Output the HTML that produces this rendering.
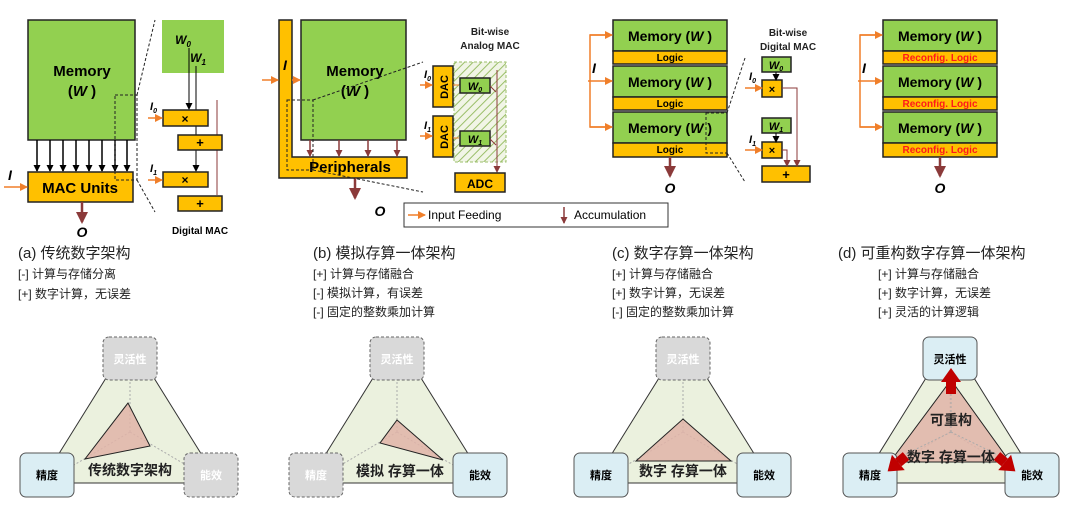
<!DOCTYPE html>
<html><head><meta charset="utf-8"><style>
body{margin:0;background:#fff;}
svg{display:block;font-family:"Liberation Sans","Noto Sans CJK SC",sans-serif;}
.b{font-weight:bold;}
</style></head><body>
<svg width="1080" height="513" viewBox="0 0 1080 513" xmlns="http://www.w3.org/2000/svg">
<defs>
<marker id="ak" markerUnits="userSpaceOnUse" markerWidth="7" markerHeight="7" refX="6" refY="3.5" orient="auto"><path d="M0,0L7,3.5L0,7z" fill="#000"/></marker>
<marker id="ar" markerUnits="userSpaceOnUse" markerWidth="7" markerHeight="7" refX="6" refY="3.5" orient="auto"><path d="M0,0L7,3.5L0,7z" fill="#8b3a3a"/></marker>
<marker id="arB" markerUnits="userSpaceOnUse" markerWidth="12" markerHeight="12" refX="10" refY="6" orient="auto"><path d="M0,0L12,6L0,12z" fill="#8b3a3a"/></marker>
<marker id="ao" markerUnits="userSpaceOnUse" markerWidth="8" markerHeight="8" refX="7" refY="4" orient="auto"><path d="M0,0L8,4L0,8z" fill="#f07f2a"/></marker>
<pattern id="hat" width="6" height="6" patternUnits="userSpaceOnUse" patternTransform="rotate(45)"><rect width="6" height="6" fill="#f1f5e6"/><line x1="0" y1="0" x2="0" y2="6" stroke="#9bbf6a" stroke-width="2"/></pattern>
</defs>
<g stroke-width="1.5">
<!-- (a) -->
<rect x="28" y="20" width="107" height="120" fill="#92d050" stroke="#222"/>
<text x="82" y="76" font-size="15" class="b" text-anchor="middle">Memory</text>
<text x="82" y="96" font-size="15" class="b" text-anchor="middle">(<tspan font-style="italic">W</tspan> )</text>
<g stroke="#000" marker-end="url(#ak)">
<line x1="37" y1="140" x2="37" y2="171"/><line x1="50" y1="140" x2="50" y2="171"/><line x1="63" y1="140" x2="63" y2="171"/><line x1="76" y1="140" x2="76" y2="171"/><line x1="89" y1="140" x2="89" y2="171"/><line x1="102" y1="140" x2="102" y2="171"/><line x1="115" y1="140" x2="115" y2="171"/><line x1="127" y1="140" x2="127" y2="171"/></g>
<rect x="28" y="172" width="105" height="30" fill="#ffc000" stroke="#222"/>
<text x="80" y="193" font-size="15" class="b" text-anchor="middle">MAC Units</text>
<line x1="4" y1="187" x2="27" y2="187" stroke="#f07f2a" marker-end="url(#ao)"/>
<text x="8" y="180" font-size="14" class="b" font-style="italic">I</text>
<line x1="82" y1="202" x2="82" y2="222" stroke="#8b3a3a" stroke-width="2.5" marker-end="url(#arB)"/>
<text x="82" y="237" font-size="14" class="b" font-style="italic" text-anchor="middle">O</text>
<g stroke="#222" stroke-dasharray="3,2" fill="none" stroke-width="1">
<rect x="115" y="95" width="22" height="85"/><line x1="137" y1="95" x2="155" y2="20"/><line x1="137" y1="180" x2="155" y2="212"/></g>
<rect x="162" y="20" width="62" height="53" fill="#92d050"/>
<text x="183" y="44" font-size="12" class="b" font-style="italic" text-anchor="middle">W<tspan font-size="8" dy="3">0</tspan></text>
<text x="198" y="62" font-size="12" class="b" font-style="italic" text-anchor="middle">W<tspan font-size="8" dy="3">1</tspan></text>
<line x1="189" y1="48" x2="189" y2="109" stroke="#000" stroke-width="1" marker-end="url(#ak)"/>
<line x1="196" y1="66" x2="196" y2="171" stroke="#000" stroke-width="1" marker-end="url(#ak)"/>
<line x1="217" y1="100" x2="217" y2="195" stroke="#8b3a3a" stroke-width="1"/>
<rect x="163" y="110" width="45" height="16" fill="#ffc000" stroke="#222"/><text x="185" y="123" font-size="12" class="b" text-anchor="middle">×</text>
<rect x="178" y="135" width="44" height="15" fill="#ffc000" stroke="#222"/><text x="200" y="147" font-size="13" class="b" text-anchor="middle">+</text>
<rect x="163" y="172" width="45" height="15" fill="#ffc000" stroke="#222"/><text x="185" y="184" font-size="12" class="b" text-anchor="middle">×</text>
<rect x="178" y="196" width="44" height="15" fill="#ffc000" stroke="#222"/><text x="200" y="208" font-size="13" class="b" text-anchor="middle">+</text>
<line x1="148" y1="118" x2="162" y2="118" stroke="#f07f2a" marker-end="url(#ao)"/>
<line x1="148" y1="180" x2="162" y2="180" stroke="#f07f2a" marker-end="url(#ao)"/>
<text x="150" y="110" font-size="11" class="b" font-style="italic">I<tspan font-size="7" dy="3">0</tspan></text>
<text x="150" y="172" font-size="11" class="b" font-style="italic">I<tspan font-size="7" dy="3">1</tspan></text>
<text x="200" y="234" font-size="10" class="b" text-anchor="middle">Digital MAC</text>

<!-- (b) -->
<path d="M279,20H292V157H407V178H279Z" fill="#ffc000" stroke="#222"/>
<rect x="301" y="20" width="105" height="120" fill="#92d050" stroke="#222"/>
<text x="355" y="76" font-size="15" class="b" text-anchor="middle">Memory</text>
<text x="355" y="96" font-size="15" class="b" text-anchor="middle">(<tspan font-style="italic">W</tspan> )</text>
<text x="350" y="172" font-size="15" class="b" text-anchor="middle">Peripherals</text>
<line x1="262" y1="80" x2="278" y2="80" stroke="#f07f2a" marker-end="url(#ao)"/>
<line x1="292" y1="80" x2="300" y2="80" stroke="#f07f2a" marker-end="url(#ao)"/>
<text x="283" y="70" font-size="14" class="b" font-style="italic">I</text>
<g stroke="#8b3a3a" marker-end="url(#ar)"><line x1="310" y1="140" x2="310" y2="156"/><line x1="339" y1="140" x2="339" y2="156"/><line x1="368" y1="140" x2="368" y2="156"/><line x1="397" y1="140" x2="397" y2="156"/></g>
<line x1="355" y1="178" x2="355" y2="198" stroke="#8b3a3a" stroke-width="2.5" marker-end="url(#arB)"/>
<text x="380" y="216" font-size="14" class="b" font-style="italic" text-anchor="middle">O</text>
<g stroke="#222" stroke-dasharray="3,2" fill="none" stroke-width="1">
<rect x="287" y="100" width="26" height="70"/><line x1="313" y1="100" x2="423" y2="62"/><line x1="313" y1="170" x2="423" y2="192"/></g>
<text x="490" y="35" font-size="10" class="b" text-anchor="middle" fill="#222">Bit-wise</text>
<text x="490" y="49" font-size="10" class="b" text-anchor="middle" fill="#222">Analog MAC</text>
<rect x="454" y="62" width="52" height="100" fill="url(#hat)" stroke="#9bbf6a" stroke-dasharray="3,2" stroke-width="1"/>
<rect x="433" y="66" width="20" height="41" fill="#ffc000" stroke="#222"/><text transform="translate(448,87) rotate(-90)" font-size="11" class="b" text-anchor="middle">DAC</text>
<rect x="433" y="116" width="20" height="41" fill="#ffc000" stroke="#222"/><text transform="translate(448,137) rotate(-90)" font-size="11" class="b" text-anchor="middle">DAC</text>
<rect x="460" y="78" width="30" height="15" fill="#92d050" stroke="#222"/><text x="475" y="90" font-size="11" class="b" font-style="italic" text-anchor="middle">W<tspan font-size="7" dy="2">0</tspan></text>
<rect x="460" y="131" width="30" height="15" fill="#92d050" stroke="#222"/><text x="475" y="143" font-size="11" class="b" font-style="italic" text-anchor="middle">W<tspan font-size="7" dy="2">1</tspan></text>
<line x1="420" y1="85" x2="432" y2="85" stroke="#f07f2a" marker-end="url(#ao)"/>
<line x1="420" y1="136" x2="432" y2="136" stroke="#f07f2a" marker-end="url(#ao)"/>
<line x1="453" y1="85" x2="459" y2="85" stroke="#f07f2a" stroke-width="1"/>
<line x1="453" y1="138" x2="459" y2="138" stroke="#f07f2a" stroke-width="1"/>
<text x="424" y="78" font-size="11" class="b" font-style="italic">I<tspan font-size="7" dy="3">0</tspan></text>
<text x="424" y="129" font-size="11" class="b" font-style="italic">I<tspan font-size="7" dy="3">1</tspan></text>
<line x1="497" y1="70" x2="497" y2="172" stroke="#8b3a3a" stroke-width="1" marker-end="url(#ar)"/>
<line x1="490" y1="86" x2="496" y2="92" stroke="#8b3a3a" stroke-width="1"/>
<line x1="490" y1="139" x2="496" y2="145" stroke="#8b3a3a" stroke-width="1"/>
<rect x="455" y="173" width="50" height="19" fill="#ffc000" stroke="#222"/><text x="480" y="188" font-size="12" class="b" text-anchor="middle">ADC</text>
<rect x="404" y="203" width="264" height="24" fill="#fff" stroke="#333" stroke-width="1"/>
<line x1="408" y1="215" x2="425" y2="215" stroke="#f07f2a" marker-end="url(#ao)"/>
<text x="428" y="219" font-size="12">Input Feeding</text>
<line x1="564" y1="207" x2="564" y2="223" stroke="#8b3a3a" marker-end="url(#ar)"/>
<text x="574" y="219" font-size="12">Accumulation</text>

<!-- (c) & (d) -->
<g id="stk">
<rect x="613" y="20" width="114" height="31" fill="#92d050" stroke="#222"/>
<rect x="613" y="51" width="114" height="13" fill="#ffc000" stroke="#222"/>
<rect x="613" y="66" width="114" height="31" fill="#92d050" stroke="#222"/>
<rect x="613" y="97" width="114" height="13" fill="#ffc000" stroke="#222"/>
<rect x="613" y="112" width="114" height="31" fill="#92d050" stroke="#222"/>
<rect x="613" y="143" width="114" height="14" fill="#ffc000" stroke="#222"/>
<text x="670" y="41" font-size="14" class="b" text-anchor="middle">Memory (<tspan font-style="italic">W</tspan> )</text>
<text x="670" y="87" font-size="14" class="b" text-anchor="middle">Memory (<tspan font-style="italic">W</tspan> )</text>
<text x="670" y="133" font-size="14" class="b" text-anchor="middle">Memory (<tspan font-style="italic">W</tspan> )</text>
<path d="M605,35H590V127H605" fill="none" stroke="#f07f2a"/>
<line x1="590" y1="35" x2="612" y2="35" stroke="#f07f2a" marker-end="url(#ao)"/>
<line x1="588" y1="81" x2="612" y2="81" stroke="#f07f2a" marker-end="url(#ao)"/>
<line x1="590" y1="127" x2="612" y2="127" stroke="#f07f2a" marker-end="url(#ao)"/>
<text x="592" y="73" font-size="14" class="b" font-style="italic">I</text>
<line x1="670" y1="157" x2="670" y2="176" stroke="#8b3a3a" stroke-width="2.5" marker-end="url(#arB)"/>
<text x="670" y="193" font-size="14" class="b" font-style="italic" text-anchor="middle">O</text>
</g>
<g font-size="10" class="b" text-anchor="middle"><text x="670" y="61">Logic</text><text x="670" y="107">Logic</text><text x="670" y="153">Logic</text></g>
<use href="#stk" x="270"/>
<g font-size="10" class="b" text-anchor="middle" fill="#ff1a1a"><text x="940" y="61">Reconfig. Logic</text><text x="940" y="107">Reconfig. Logic</text><text x="940" y="153">Reconfig. Logic</text></g>
<g stroke="#222" stroke-dasharray="3,2" fill="none" stroke-width="1">
<rect x="706" y="113" width="21" height="40"/><line x1="727" y1="113" x2="745" y2="58"/><line x1="727" y1="153" x2="745" y2="182"/></g>
<text x="788" y="36" font-size="10" class="b" text-anchor="middle" fill="#222">Bit-wise</text>
<text x="788" y="50" font-size="10" class="b" text-anchor="middle" fill="#222">Digital MAC</text>
<rect x="762" y="57" width="29" height="15" fill="#92d050" stroke="#222"/><text x="776" y="69" font-size="11" class="b" font-style="italic" text-anchor="middle">W<tspan font-size="7" dy="2">0</tspan></text>
<rect x="762" y="118" width="29" height="15" fill="#92d050" stroke="#222"/><text x="776" y="130" font-size="11" class="b" font-style="italic" text-anchor="middle">W<tspan font-size="7" dy="2">1</tspan></text>
<rect x="762" y="80" width="20" height="17" fill="#ffc000" stroke="#222"/><text x="772" y="93" font-size="11" class="b" text-anchor="middle">×</text>
<rect x="762" y="142" width="20" height="16" fill="#ffc000" stroke="#222"/><text x="772" y="154" font-size="11" class="b" text-anchor="middle">×</text>
<rect x="762" y="166" width="48" height="16" fill="#ffc000" stroke="#222"/><text x="786" y="179" font-size="13" class="b" text-anchor="middle">+</text>
<line x1="776" y1="72" x2="776" y2="80" stroke="#000" stroke-width="1" marker-end="url(#ak)"/>
<line x1="776" y1="133" x2="776" y2="142" stroke="#000" stroke-width="1" marker-end="url(#ak)"/>
<path d="M782,88H797V166" fill="none" stroke="#8b3a3a" stroke-width="1" marker-end="url(#ar)"/>
<path d="M782,150H787V166" fill="none" stroke="#8b3a3a" stroke-width="1" marker-end="url(#ar)"/>
<line x1="745" y1="88" x2="762" y2="88" stroke="#f07f2a" marker-end="url(#ao)"/>
<line x1="745" y1="150" x2="762" y2="150" stroke="#f07f2a" marker-end="url(#ao)"/>
<text x="749" y="80" font-size="11" class="b" font-style="italic">I<tspan font-size="7" dy="3">0</tspan></text>
<text x="749" y="143" font-size="11" class="b" font-style="italic">I<tspan font-size="7" dy="3">1</tspan></text>
</g>

<!-- captions -->
<g font-size="15" fill="#222"><text x="18" y="258">(a) 传统数字架构</text><text x="313" y="258">(b) 模拟存算一体架构</text><text x="612" y="258">(c) 数字存算一体架构</text><text x="838" y="258">(d) 可重构数字存算一体架构</text></g>
<g font-size="12" fill="#222">
<text x="18" y="278">[-] 计算与存储分离</text><text x="18" y="298">[+] 数字计算，无误差</text>
<text x="313" y="278">[+] 计算与存储融合</text><text x="313" y="297">[-] 模拟计算，有误差</text><text x="313" y="316">[-] 固定的整数乘加计算</text>
<text x="612" y="278">[+] 计算与存储融合</text><text x="612" y="297">[+] 数字计算，无误差</text><text x="612" y="316">[-] 固定的整数乘加计算</text>
<text x="878" y="278">[+] 计算与存储融合</text><text x="878" y="297">[+] 数字计算，无误差</text><text x="878" y="316">[+] 灵活的计算逻辑</text>
</g>

<!-- triangles -->
<g id="tri">
<polygon points="106,378 154,378 205,460 205,483 55,483 55,460" fill="#ebf1de" stroke="#333" stroke-width="1"/>
<g stroke="#aaa" stroke-dasharray="2,2" stroke-width="1"><line x1="130" y1="432" x2="130" y2="380"/><line x1="130" y1="432" x2="74" y2="465"/><line x1="130" y1="432" x2="186" y2="465"/></g>
</g>
<use href="#tri" x="267"/><use href="#tri" x="553"/><use href="#tri" x="820"/>
<g stroke="#222" stroke-width="1" fill="#e0b4a8" fill-opacity="0.85">
<polygon points="128,403 150,446 85,459"/>
<polygon points="397,420 443,460 380,443"/>
<polygon points="683,419 731,461 636,461"/>
<polygon points="951,380 1010,462 890,462"/>
</g>
<g stroke="#aaa" stroke-dasharray="2,2" stroke-width="1"><line x1="951" y1="432" x2="951" y2="385"/><line x1="951" y1="432" x2="898" y2="458"/><line x1="951" y1="432" x2="1004" y2="458"/></g>
<g font-size="12" class="b" fill="#222">
<text x="130" y="475" font-size="14" text-anchor="middle">传统数字架构</text>
<text x="400" y="476" font-size="14" text-anchor="middle">模拟 存算一体</text>
<text x="683" y="476" font-size="14" text-anchor="middle">数字 存算一体</text>
<text x="951" y="425" font-size="14" text-anchor="middle">可重构</text>
<text x="951" y="462" font-size="14" text-anchor="middle">数字  存算一体</text>
</g>
<!-- boxes -->
<g font-size="11" class="b" text-anchor="middle">
<rect x="103" y="337" width="54" height="43" rx="6" fill="#d9d9d9" stroke="#666" stroke-dasharray="3,2"/><text x="130" y="363" fill="#fff">灵活性</text>
<rect x="20" y="453" width="54" height="44" rx="6" fill="#dbeef4" stroke="#555"/><text x="47" y="479">精度</text>
<rect x="184" y="453" width="54" height="44" rx="6" fill="#d9d9d9" stroke="#666" stroke-dasharray="3,2"/><text x="211" y="479" fill="#fff">能效</text>

<rect x="370" y="337" width="54" height="43" rx="6" fill="#d9d9d9" stroke="#666" stroke-dasharray="3,2"/><text x="397" y="363" fill="#fff">灵活性</text>
<rect x="289" y="453" width="54" height="44" rx="6" fill="#d9d9d9" stroke="#666" stroke-dasharray="3,2"/><text x="316" y="479" fill="#fff">精度</text>
<rect x="453" y="453" width="54" height="44" rx="6" fill="#dbeef4" stroke="#555"/><text x="480" y="479">能效</text>

<rect x="656" y="337" width="54" height="43" rx="6" fill="#d9d9d9" stroke="#666" stroke-dasharray="3,2"/><text x="683" y="363" fill="#fff">灵活性</text>
<rect x="574" y="453" width="54" height="44" rx="6" fill="#dbeef4" stroke="#555"/><text x="601" y="479">精度</text>
<rect x="737" y="453" width="54" height="44" rx="6" fill="#dbeef4" stroke="#555"/><text x="764" y="479">能效</text>

<rect x="923" y="337" width="54" height="43" rx="6" fill="#dbeef4" stroke="#555"/><text x="950" y="363">灵活性</text>
<rect x="843" y="453" width="54" height="44" rx="6" fill="#dbeef4" stroke="#555"/><text x="870" y="479">精度</text>
<rect x="1005" y="453" width="54" height="44" rx="6" fill="#dbeef4" stroke="#555"/><text x="1032" y="479">能效</text>
</g>
<!-- red block arrows -->
<g fill="#c00000">
<g transform="translate(951,394) rotate(-90)"><rect x="0" y="-5" width="12" height="10"/><polygon points="12,-10 26,0 12,10"/></g>
<g transform="translate(906,456) rotate(140)"><rect x="0" y="-5" width="10" height="10"/><polygon points="10,-10 24,0 10,10"/></g>
<g transform="translate(997,456) rotate(40)"><rect x="0" y="-5" width="10" height="10"/><polygon points="10,-10 24,0 10,10"/></g>
</g>
</svg>
</body></html>
